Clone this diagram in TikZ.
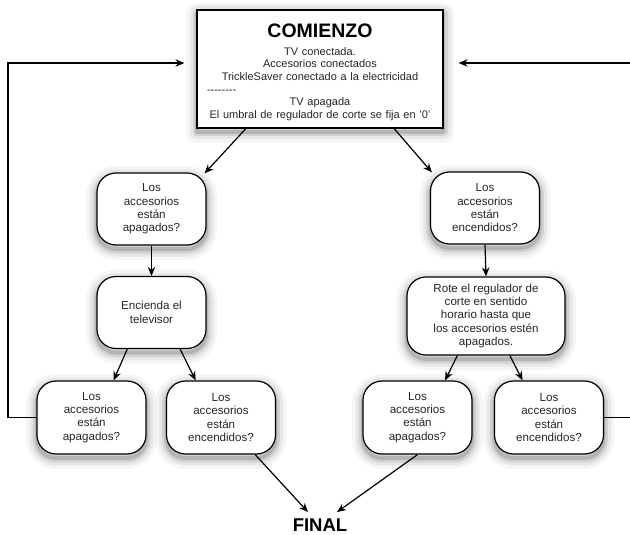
\documentclass[tikz,border=0pt]{standalone}
\usepackage{fontspec}
\setmainfont{Liberation Sans}
\usetikzlibrary{arrows.meta,calc}
\begin{document}
\begin{tikzpicture}[x=1pt,y=-1pt,
  shad/.style={
    preaction={draw=black, draw opacity=0.04, line width=22pt, line join=round, transform canvas={yshift=-4pt}},
    preaction={draw=black, draw opacity=0.06, line width=15pt, line join=round, transform canvas={yshift=-4pt}},
    preaction={draw=black, draw opacity=0.09, line width=9pt, line join=round, transform canvas={yshift=-4pt}},
    preaction={draw=black, draw opacity=0.14, line width=4pt, line join=round, transform canvas={yshift=-4pt}}},
  box/.style={draw=black, line width=1.2pt, fill=white, rounded corners=19pt, align=center,
    font=\fontsize{11.6}{13.3}\selectfont, text=black!85, inner sep=0pt,
    minimum width=109pt, minimum height=72pt, shad},
  topbox/.style={draw=black, line width=1.2pt, fill=white, minimum width=246pt, minimum height=118pt, inner sep=0pt, shad},
  toptext/.style={align=center, text width=226pt, inner sep=0pt, font=\fontsize{11}{12.6}\selectfont, text=black!85},
  arr/.style={line width=1.2pt, -{Stealth[length=9pt,width=7.5pt]}},
  ln/.style={line width=1.2pt},
  ]
\useasboundingbox (0,0) rectangle (630,535);

\node[topbox] (top) at (320,69) {};
\node[toptext, anchor=north] (toptxt) at ([yshift=-14.5pt]top.north) {{\fontsize{19.5}{20}\selectfont\bfseries\color{black} COMIENZO}\\[5pt]
TV conectada.\\
Accesorios conectados\\
TrickleSaver conectado a la electricidad\\
\makebox[\linewidth][l]{-{}-{}-{}-{}-{}-{}-{}-}\\
TV apagada\\
El umbral de regulador de corte se fija en '0'};

\node[box] (qa) at (151.5,209) {Los\\accesorios\\están\\apagados?};
\node[box] (qe) at (151.5,312.5) {Encienda el\\televisor};
\node[box] (qb) at (485,208) {Los\\accesorios\\están\\encendidos?};
\node[box, minimum width=158pt, minimum height=78pt] (rot) at (486,316) {Rote el regulador de\\corte en sentido\\horario hasta que\\los accesorios estén\\apagados.};

\node[box, minimum height=73pt] (ba) at (91.5,417.5) {Los\\accesorios\\están\\apagados?};
\node[box, minimum height=73pt] (bb) at (221,417.5) {Los\\accesorios\\están\\encendidos?};
\node[box, minimum height=73pt] (bc) at (417.5,417.5) {Los\\accesorios\\están\\apagados?};
\node[box, minimum height=73pt] (bd) at (549,417.5) {Los\\accesorios\\están\\encendidos?};

\node[font=\fontsize{18.5}{20}\selectfont\bfseries, inner sep=2pt, anchor=base] (fin) at (320,531) {FINAL};

% top to questions
\draw[arr] ($(top.south west)!0.2!(top.south east)$) -- ([xshift=-2pt,yshift=-1pt]qa.north east);
\draw[arr] ($(top.south west)!0.8!(top.south east)$) -- ([xshift=2pt,yshift=-1pt]qb.north west);
% down
\draw[arr] (qa.south) -- (qe.north);
\draw[arr] (qb.south) -- (rot.north);
% to bottom row
\draw[arr] ($(qe.south west)!0.28!(qe.south east)$) -- ($(ba.north west)!0.7!(ba.north east)$);
\draw[arr] ($(qe.south west)!0.76!(qe.south east)$) -- ($(bb.north west)!0.27!(bb.north east)$);
\draw[arr] ($(rot.south west)!0.32!(rot.south east)$) -- ($(bc.north west)!0.75!(bc.north east)$);
\draw[arr] ($(rot.south west)!0.65!(rot.south east)$) -- ($(bd.north west)!0.26!(bd.north east)$);
% to final
\draw[arr] ($(bb.south west)!0.81!(bb.south east)$) -- ([xshift=-12pt,yshift=4pt]fin.north);
\draw[arr] ($(bc.south west)!0.5!(bc.south east)$) -- ([xshift=17pt,yshift=4pt]fin.north);

% loops
\coordinate (lc) at (8,63);
\draw[arr, shorten >=12pt] (ba.west) -| (lc) -- (lc -| top.west);
\coordinate (rc) at (630,63);
\draw[arr, shorten >=15pt] (rc) -- (rc -| top.east);
\coordinate (rd) at (630,418);
\draw[ln] (bd.east) -- (bd.east -| rd);
\end{tikzpicture}
\end{document}
